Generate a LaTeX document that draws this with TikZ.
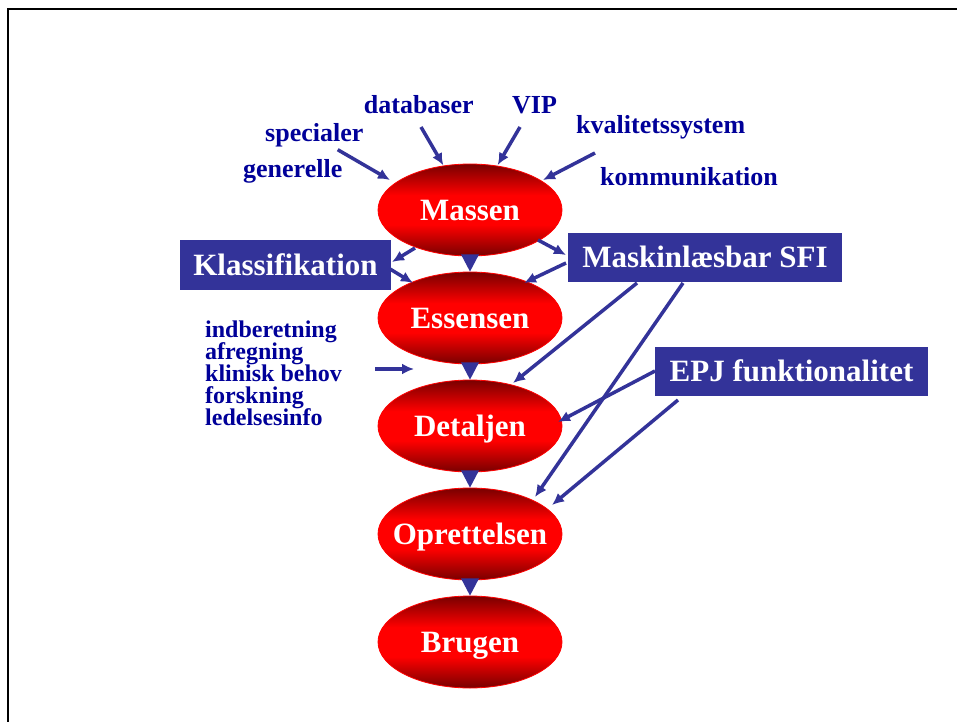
\documentclass[tikz,border=0pt]{standalone}
\usepackage{fontspec}
\setmainfont{Liberation Serif}
\usetikzlibrary{shapes.geometric,arrows.meta,calc}
\definecolor{navy}{RGB}{0,0,153}
\definecolor{boxblue}{RGB}{51,51,153}
\definecolor{rdark}{RGB}{120,0,0}
\definecolor{rbright}{RGB}{255,0,0}
% dark rim at top and bottom, bright red band through the middle
\pgfdeclareverticalshading{stagefill}{100bp}{color(0bp)=(rdark); color(25bp)=(rdark); color(42bp)=(rbright); color(58bp)=(rbright); color(75bp)=(rdark); color(100bp)=(rdark)}
% stage titles take no width, so every ellipse keeps the same size
\newcommand{\stagename}[1]{\makebox[0pt]{#1}}
\begin{document}
\begin{tikzpicture}[x=1bp,y=-1bp,
  stage/.style={ellipse, minimum width=184bp, minimum height=92bp, inner sep=0pt,
    draw=red, line width=0.8bp, shading=stagefill, text=white,
    font=\fontsize{31bp}{36bp}\selectfont\bfseries, text height=20.5bp, text depth=0pt},
  tag/.style={rectangle, fill=boxblue, text=white, inner sep=0pt,
    font=\fontsize{31bp}{36bp}\selectfont\bfseries, text height=20.5bp, text depth=0pt},
  lbl/.style={text=navy, inner sep=0pt, anchor=base west,
    font=\fontsize{26bp}{30bp}\selectfont\bfseries},
  item/.style={text=navy, inner sep=0pt, anchor=base west,
    font=\fontsize{24bp}{28bp}\selectfont\bfseries},
  link/.style={draw=boxblue, line width=3.5bp, -{Latex[length=12bp,width=11bp]}},
  drop/.style={fill=boxblue}]

\useasboundingbox (0,0) rectangle (957,722);
\fill[white] (0,0) rectangle (957,722);

% page frame
\draw[line width=2bp] (8,722) -- (8,9) -- (957,9);

% stages
\node[stage] (massen) at (470,210) {\stagename{Massen}};
\node[stage] (essensen) at (470,318) {\stagename{Essensen}};
\node[stage] (detaljen) at (470,426) {\stagename{Detaljen}};
\node[stage] (oprettelsen) at (470,534) {\stagename{Oprettelsen}};
\node[stage] (brugen) at (470,642) {\stagename{Brugen}};

% flow between stages
\foreach \a/\b in {massen/essensen, essensen/detaljen, detaljen/oprettelsen, oprettelsen/brugen}
  \fill[drop] ([shift={(-9,-2)}]\a.south) -- ([shift={(9,-2)}]\a.south) -- (\b.north) -- cycle;

% boxes
\node[tag, minimum width=211bp, minimum height=50bp] (klass) at (285.5,265) {Klassifikation};
\node[tag, minimum width=274bp, minimum height=49bp] (mask) at (705,257.5) {Maskinlæsbar SFI};
\node[tag, minimum width=273bp, minimum height=49bp] (epj) at (791.5,371.5) {EPJ funktionalitet};

% sources
\node[lbl] (databaser) at (363.7,113.7) {databaser};
\node[lbl] (vip) at (512,113.7) {VIP};
\node[lbl] (specialer) at (265,141.3) {specialer};
\node[lbl] (kval) at (576,134) {kvalitetssystem};
\node[lbl] (generelle) at (243,178) {generelle};
\node[lbl] (komm) at (600,186) {kommunikation};

% purposes
\node[item] (i1) at (205,337) {indberetning};
\node[item] (i2) at (205,359) {afregning};
\node[item] (i3) at (205,381) {klinisk behov};
\node[item] (i4) at (205,403) {forskning};
\node[item] (i5) at (205,425) {ledelsesinfo};
\coordinate (purpfrom) at (375,369);
\coordinate (purpto) at (414,369);

% connectors
\draw[link] ([shift={(72.7,8.4)}]specialer.base west) -- ([shift={(-80,-30)}]massen.center);
\draw[link] ([shift={(57.3,13.3)}]databaser.base west) -- ([shift={(-26.7,-44.7)}]massen.center);
\draw[link] ([shift={(8,13.3)}]vip.base west) -- ([shift={(27.7,-45)}]massen.center);
\draw[link] ([shift={(19,19)}]kval.base west) -- ([shift={(73,-30)}]massen.center);

\draw[link] ([shift={(-55,38)}]massen.center) -- ([shift={(106.5,-3)}]klass.center);
\draw[link] ([shift={(104.5,4)}]klass.center) -- ([shift={(-57,-35)}]essensen.center);
\draw[link] ([shift={(68,30)}]massen.center) -- ([shift={(-139,-2.5)}]mask.center);
\draw[link] ([shift={(-139,5.5)}]mask.center) -- ([shift={(54,-35)}]essensen.center);
\draw[link] ([shift={(-68,25.5)}]mask.center) -- ([shift={(43,-43)}]detaljen.center);
\draw[link] ([shift={(-22,25.5)}]mask.center) -- ([shift={(65,-37)}]oprettelsen.center);
\draw[link] ([shift={(-136.5,-0.5)}]epj.center) -- ([shift={(88,-4)}]detaljen.center);
\draw[link] ([shift={(-113.5,28.5)}]epj.center) -- ([shift={(82,-29)}]oprettelsen.center);
\draw[link] (purpfrom) -- (purpto);
\end{tikzpicture}
\end{document}
